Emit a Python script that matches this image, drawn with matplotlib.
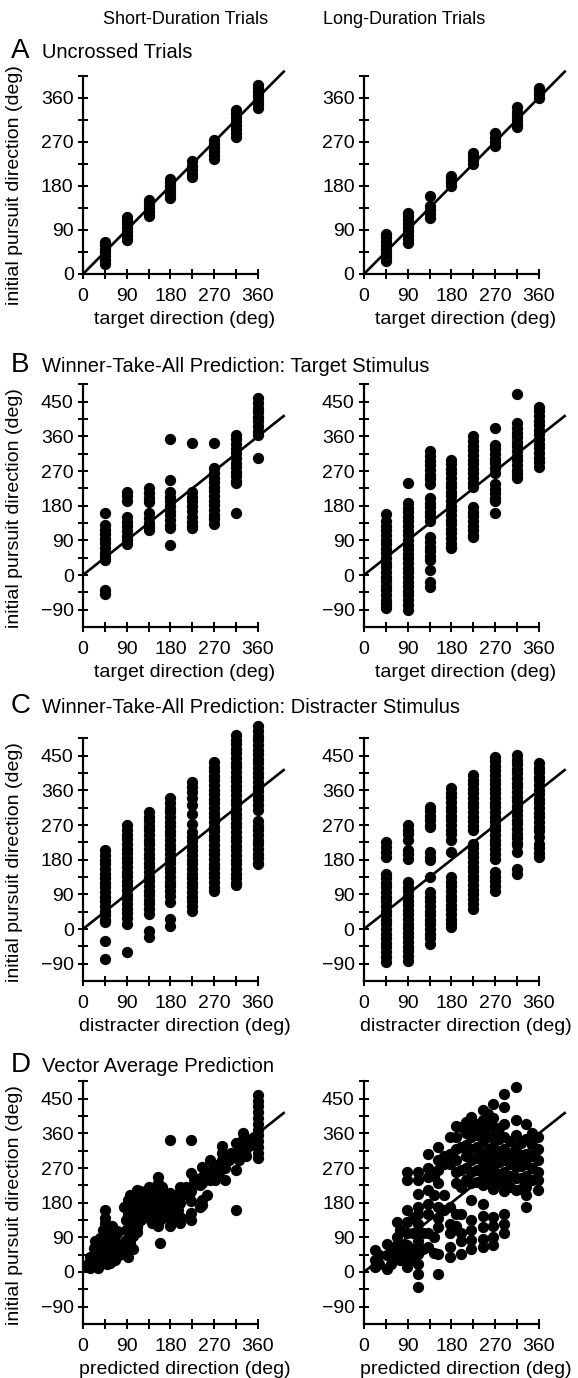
import matplotlib
matplotlib.use("Agg")
import matplotlib.pyplot as plt

plt.rcParams['font.family'] = ['Liberation Sans', 'DejaVu Sans']

# ---------------- data ----------------
dirs = [45, 90, 135, 180, 225, 270, 315, 360]

# A: uncrossed trials
a_short_y = [
    [20, 28, 36, 44, 52, 60, 65],
    [70, 78, 86, 94, 102, 110, 116],
    [118, 126, 134, 142, 152],
    [156, 164, 172, 180, 188, 193],
    [197, 205, 213, 221, 230],
    [234, 242, 250, 258, 266, 274],
    [280, 288, 296, 304, 312, 320, 328, 335],
    [339, 347, 355, 363, 371, 379, 386],
]
a_long_y = [
    [27, 35, 43, 51, 59, 67, 75, 82],
    [63, 71, 79, 87, 95, 103, 111, 118, 125],
    [115, 123, 131, 139, 160],
    [180, 188, 195, 200],
    [225, 233, 241, 247],
    [262, 270, 278, 288],
    [299, 307, 315, 323, 331, 340],
    [360, 368, 375, 380],
]

# B: winner-take-all, target stimulus
b_short_y = [
    [160, 130, 118, 106, 94, 82, 70, 58, 46, 38, -40, -50],
    [216, 204, 192, 150, 138, 126, 114, 102, 90, 80],
    [225, 213, 201, 190, 160, 148, 136, 124, 117],
    [352, 248, 215, 203, 191, 179, 167, 155, 143, 131, 121, 78],
    [344, 215, 203, 191, 179, 167, 150, 138, 126, 121],
    [344, 277, 265, 253, 241, 229, 217, 205, 193, 181, 169, 157, 145, 133],
    [364, 352, 340, 328, 316, 304, 292, 280, 268, 256, 244, 238, 160],
    [459, 447, 435, 423, 411, 399, 387, 375, 363, 303],
]
b_long_y = [
    [159, 140, 128, 116, 104, 92, 80, 68, 56, 44, 32, 20, 8, -4, -16, -28,
     -40, -52, -64, -76, -86],
    [240, 187, 175, 163, 151, 139, 127, 115, 103, 91, 79, 67, 55, 43, 31, 19,
     7, -5, -17, -29, -41, -53, -65, -77, -90],
    [321, 309, 297, 285, 273, 261, 249, 237, 200, 188, 176, 164, 152, 141,
     98, 86, 74, 62, 50, 39, 13, -17, -30],
    [300, 288, 276, 264, 252, 240, 228, 216, 204, 192, 180, 168, 156, 144,
     132, 120, 108, 96, 84, 72, 69],
    [360, 348, 336, 324, 312, 300, 288, 276, 264, 252, 240, 228, 176, 164,
     152, 140, 128, 116, 104, 99],
    [381, 338, 326, 314, 302, 290, 278, 266, 236, 224, 212, 200, 193, 160],
    [471, 394, 382, 370, 358, 346, 334, 322, 310, 298, 286, 274, 262, 253],
    [437, 425, 413, 401, 389, 377, 365, 353, 341, 329, 317, 305, 293, 281],
]

# C: winner-take-all, distracter stimulus
c_short_y = [
    [204, 192, 180, 168, 156, 144, 132, 120, 108, 96, 84, 72, 60, 48, 36,
     24, 17, -30, -78],
    [269, 257, 245, 233, 221, 209, 197, 185, 173, 161, 149, 137, 125, 113,
     101, 89, 77, 65, 53, 41, 29, 13, -59],
    [304, 292, 280, 268, 256, 244, 232, 220, 208, 196, 184, 172, 160, 148,
     136, 124, 112, 100, 88, 76, 64, 52, 39, -4, -22],
    [339, 327, 315, 303, 291, 279, 267, 255, 243, 231, 219, 207, 195, 183,
     171, 159, 147, 135, 123, 111, 99, 87, 70, 26, 9],
    [382, 370, 355, 340, 321, 300, 274, 252, 240, 228, 216, 204, 192, 180,
     168, 156, 144, 132, 120, 108, 96, 84, 72, 60, 48],
    [434, 422, 410, 398, 386, 374, 362, 350, 338, 326, 314, 302, 290, 278,
     266, 254, 242, 230, 218, 206, 194, 182, 170, 158, 146, 134, 122, 110, 100],
    [504, 492, 480, 468, 456, 444, 432, 420, 408, 396, 384, 372, 360, 348,
     336, 324, 312, 300, 288, 276, 264, 252, 240, 228, 216, 204, 192, 180,
     168, 156, 144, 132, 120, 113],
    [526, 514, 502, 490, 478, 466, 454, 442, 430, 418, 406, 394, 382, 370,
     358, 346, 334, 322, 310, 280, 268, 256, 244, 232, 220, 208, 196, 184,
     172, 169],
]
c_long_y = [
    [226, 214, 200, 187, 144, 132, 120, 108, 96, 84, 72, 60, 48, 36, 24, 12,
     0, -12, -24, -36, -48, -60, -74, -87],
    [270, 258, 246, 231, 205, 195, 183, 122, 110, 98, 86, 74, 62, 50, 38, 26,
     14, 2, -10, -22, -34, -46, -58, -70, -83],
    [318, 306, 294, 282, 270, 265, 200, 188, 178, 135, 96, 84, 72, 60, 48,
     36, 24, 12, 0, -12, -24, -39],
    [366, 354, 342, 330, 318, 306, 294, 282, 270, 258, 246, 231, 200, 135,
     123, 111, 99, 87, 75, 63, 51, 39, 27, 15, 4],
    [400, 388, 376, 364, 352, 340, 328, 316, 304, 292, 280, 268, 257, 222,
     210, 198, 186, 174, 162, 150, 138, 126, 114, 102, 90, 78, 66, 52],
    [448, 436, 424, 412, 400, 388, 376, 364, 352, 340, 328, 316, 304, 292,
     280, 268, 256, 244, 232, 220, 208, 196, 183, 148, 136, 124, 112, 100],
    [452, 440, 428, 416, 404, 392, 380, 368, 356, 344, 332, 320, 308, 296,
     284, 272, 260, 248, 236, 224, 217, 200, 157, 144],
    [431, 419, 407, 395, 387, 374, 362, 350, 338, 326, 314, 302, 290, 278,
     266, 254, 239, 222, 210, 198, 187],
]

# D: vector average prediction; predicted direction -> pursuit directions
d_short_px = [10, 15, 22, 25, 30, 36, 42, 45, 50, 55, 60, 65, 70, 75, 85,
              89, 93, 97, 102, 108, 112, 118, 125, 130, 135, 141, 145, 150,
              155, 158, 163, 170, 178, 185, 190, 195, 200, 205, 212, 218, 223,
              228, 235, 240, 245, 255, 262, 267, 272, 280, 285, 292, 300, 305,
              315, 322, 330, 336, 345, 352, 360]
d_short_py = [
    [15, 20], [10, 40], [30, 62, 18], [58, 80, 45], [10, 55, 75],
    [32, 88, 60], [35, 110, 70], [162, 127, 101, 28, 140], [49, 20, 65, 85],
    [23, 95, 115], [40, 120, 50], [67, 93, 30, 80], [106, 55, 100], [45, 70],
    [70, 170], [58, 136, 84, 110], [188, 150, 40], [110, 75, 130, 200],
    [93, 170, 60], [125, 190], [144, 214, 118, 157, 105, 175],
    [200, 140, 210], [160], [185, 210], [222, 196, 175, 144],
    [127, 165, 200], [153, 185], [210, 160], [231, 120, 248],
    [205, 136, 75, 185], [170, 150, 196, 220], [190, 150],
    [343, 205, 170, 136, 188, 120], [175, 160], [200, 140], [160, 196],
    [222, 127, 144, 180], [210, 200], [220], [200, 140],
    [343, 257, 184, 136, 153, 210], [231, 245], [240], [225, 170],
    [274, 248, 188, 175, 230], [260, 245, 200], [240, 291], [257, 280],
    [239, 260], [274, 250], [326, 291, 280, 310], [239, 300, 270], [290],
    [310], [335, 265, 162, 300], [320, 290], [361, 345], [300, 320],
    [330, 345], [350, 340],
    [460, 445, 430, 415, 400, 385, 370, 355, 340, 325, 310, 295],
]
d_long_px = [23, 30, 47, 55, 67, 75, 88, 100, 112, 122, 132, 145, 153, 165,
             177, 190, 200, 210, 221, 232, 245, 255, 265, 277, 289, 300, 313,
             323, 334, 345, 358]
d_long_py = [
    [56, 30, 13], [45, 20], [9, 74, 45], [60, 40, 20], [130, 91, 48, 70],
    [110, 60, 30], [260, 238, 160, 130, 100, 70, 48, 13, 40],
    [140, 100, 60, 30],
    [260, 240, 203, 170, 151, 125, 100, 80, 48, 20, -4, -39], [100, 60],
    [307, 270, 247, 212, 177, 150, 100, 65], [250, 200, 90, 50],
    [324, 290, 264, 230, 168, 140, 117, 48, -4], [300, 280, 200, 160],
    [350, 307, 280, 168, 125, 100, 65, 40],
    [380, 350, 320, 290, 260, 230, 150, 120],
    [376, 324, 264, 221, 151, 100, 48, 80],
    [390, 360, 330, 300, 270, 240],
    [402, 375, 350, 320, 290, 260, 230, 186, 134, 82, 110, 60],
    [385, 355, 325, 295, 265, 235],
    [420, 395, 368, 340, 307, 280, 255, 225, 177, 145, 117, 85, 65],
    [410, 380, 350, 320, 290, 260, 230],
    [437, 400, 376, 350, 324, 300, 272, 245, 215, 143, 120, 91, 70],
    [375, 345, 315, 285, 255, 225],
    [463, 428, 385, 350, 320, 290, 260, 238, 210, 151, 125, 100],
    [340, 310, 280, 250, 220],
    [480, 394, 355, 324, 295, 272, 245, 212],
    [335, 305, 275, 245, 215],
    [385, 345, 307, 280, 250, 221, 169, 200],
    [360, 330, 300, 270, 240],
    [350, 320, 290, 260, 238, 212],
]

# identity (prediction) line end
line_x = [0, 415]

col_titles = ["Short-Duration Trials", "Long-Duration Trials"]
row_letters = ["A", "B", "C", "D"]
row_titles = ["Uncrossed Trials",
              "Winner-Take-All Prediction: Target Stimulus",
              "Winner-Take-All Prediction: Distracter Stimulus",
              "Vector Average Prediction"]
x_labels = ["target direction (deg)", "target direction (deg)",
            "distracter direction (deg)", "predicted direction (deg)"]
y_label = "initial pursuit direction (deg)"

# ---------------- layout (pixels) ----------------
W, H = 578, 1378
fig = plt.figure(figsize=(W / 100, H / 100), dpi=100)

XSCALE = 0.486           # px per degree
col_left = [83, 364]     # pixel x of y-axis
# per row: (pixel y of 0 deg, px per degree, ylim low, spine top, ylim top)
rows = [
    (274, 0.490, 0, 405, 415),
    (575, 0.385, -135, 495, 540),
    (929, 0.385, -135, 495, 540),
    (1272, 0.385, -135, 495, 540),
]
title_base = [58, 372, 713, 1072]
ylabel_center = [185, 508, 862, 1205]

FS = 14


def ftext(x, y, s, **kw):
    return fig.text(x / W, 1 - y / H, s, **kw)


def columns_to_xy(xvals, ycols):
    xs, ys = [], []
    for d, col in zip(xvals, ycols):
        for v in col:
            xs.append(d)
            ys.append(v)
    return xs, ys


data = [
    (columns_to_xy(dirs, a_short_y), columns_to_xy(dirs, a_long_y)),
    (columns_to_xy(dirs, b_short_y), columns_to_xy(dirs, b_long_y)),
    (columns_to_xy(dirs, c_short_y), columns_to_xy(dirs, c_long_y)),
    (columns_to_xy(d_short_px, d_short_py),
     columns_to_xy(d_long_px, d_long_py)),
]

for r, (y0, ysc, ylo, ysp, yhi) in enumerate(rows):
    for c in range(2):
        left = col_left[c]
        right = left + 420 * XSCALE
        bottom = y0 - ylo * ysc
        top = y0 - yhi * ysc
        ax = fig.add_axes([left / W, 1 - bottom / H, (right - left) / W,
                           (bottom - top) / H])
        ax.patch.set_alpha(0)
        xs, ys = data[r][c]
        ax.scatter(xs, ys, s=66, c='black', linewidths=0, clip_on=False,
                   zorder=3)
        ax.plot(line_x, line_x, color='black', lw=1.9, clip_on=False,
                zorder=4, solid_capstyle='butt')
        ax.set_xlim(0, 420)
        ax.set_ylim(ylo, yhi)
        for s in ['top', 'right']:
            ax.spines[s].set_visible(False)
        for s in ['left', 'bottom']:
            ax.spines[s].set_linewidth(1.6)
        ax.spines['left'].set_bounds(ylo, ysp)
        ax.spines['bottom'].set_bounds(0, 360)
        ax.set_xticks([0, 90, 180, 270, 360])
        ax.set_xticks([45, 135, 225, 315], minor=True)
        major_y = [v for v in range(-90, 451, 90) if ylo <= v <= ysp]
        minor_y = [v for v in range(-45, 496, 90) if ylo <= v <= ysp]
        ax.set_yticks(major_y)
        ax.set_yticks(minor_y, minor=True)
        ax.tick_params(which='both', direction='inout', length=7.5,
                       width=1.4, labelsize=FS, color='black')
        ax.tick_params(axis='y', which='both', pad=3)
        ax.tick_params(axis='x', which='both', pad=6.5)
        ax.set_xlabel(x_labels[r], fontsize=FS, labelpad=4)
    # row letter and title
    ftext(11, title_base[r], row_letters[r], fontsize=20, va='baseline',
          ha='left')
    ftext(42, title_base[r], row_titles[r], fontsize=14.5, va='baseline',
          ha='left')
    # y label (left column only)
    ftext(15, ylabel_center[r], y_label, fontsize=FS, rotation=90,
          ha='center', va='center')

ftext(186, 20, col_titles[0], fontsize=13, ha='center', va='center')
ftext(404, 20, col_titles[1], fontsize=13, ha='center', va='center')

fig.savefig("out.png", dpi=100)
